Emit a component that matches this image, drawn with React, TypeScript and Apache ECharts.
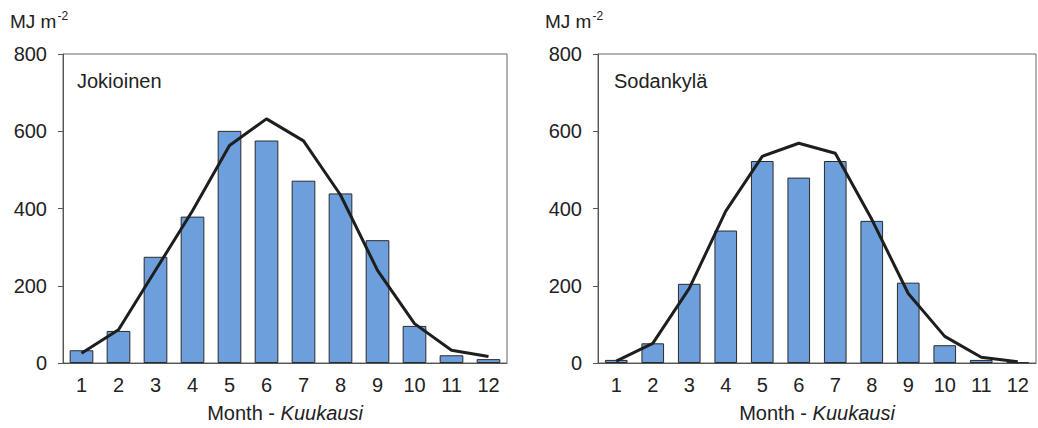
import React, { useEffect, useRef } from "react";
import * as echarts from "echarts";

const months = ["1", "2", "3", "4", "5", "6", "7", "8", "9", "10", "11", "12"];
const jokioinenBars = [33, 83, 275, 379, 601, 576, 472, 439, 318, 96, 20, 10];
const jokioinenLine = [25, 86, 240, 394, 563, 632, 575, 435, 240, 102, 33, 17];
const sodankylaBars = [8, 51, 205, 343, 523, 480, 523, 368, 208, 46, 8, 2];
const sodankylaLine = [5, 51, 193, 393, 535, 569, 543, 372, 180, 69, 15, 3];
const yTicks = [0, 200, 400, 600, 800];

const FONT = "Liberation Sans, Arial, sans-serif";

export default function App() {
  const ref = useRef<HTMLDivElement>(null);
  useEffect(() => {
    if (!ref.current) return;
    const chart = echarts.init(ref.current, null, { renderer: "svg" });
    const grids = [
      { left: 63, right: 531, top: 54, bottom: 56 },
      { left: 598, right: 2, top: 54, bottom: 59 },
    ];
    const xAxis = grids.map((_, i) => ({
      type: "category",
      gridIndex: i,
      data: months,
      axisLine: { lineStyle: { color: "#555", width: 1 } },
      axisTick: { show: false },
      axisLabel: { color: "#222", fontSize: 20, fontFamily: FONT, margin: 12 },
      name: "{n|Month - }{i|Kuukausi}",
      nameLocation: "middle",
      nameGap: 40,
      nameTextStyle: {
        rich: {
          n: { fontSize: 20, color: "#222", fontFamily: FONT },
          i: { fontSize: 20, color: "#222", fontFamily: FONT, fontStyle: "italic" },
        },
      },
    }));
    const yAxis = grids.map((_, i) => ({
      type: "value",
      gridIndex: i,
      min: 0,
      max: yTicks[yTicks.length - 1],
      interval: 200,
      axisLine: { show: true, lineStyle: { color: "#555", width: 1 } },
      axisTick: { show: true, length: 5, lineStyle: { color: "#555" } },
      splitLine: { show: false },
      axisLabel: { color: "#222", fontSize: 20, fontFamily: FONT, margin: 16 },
    }));
    const barStyle = { color: "#6d9fdc", borderColor: "#2a2a2a", borderWidth: 1 };
    const lineStyle = { color: "#1e1e1e", width: 3 };
    const titleText = (x: number, label: string, lx: number) => [
      {
        type: "text",
        left: x,
        top: 10,
        style: {
          text: "{a|MJ m}{s|-2}",
          rich: {
            a: { fontSize: 19, fill: "#222", fontFamily: FONT, verticalAlign: "bottom" },
            s: { fontSize: 12, fill: "#222", fontFamily: FONT, verticalAlign: "top", padding: [0, 0, 9, 1] },
          },
        },
      },
      {
        type: "text",
        left: lx,
        top: 71,
        style: { text: label, fontSize: 20, fill: "#222", fontFamily: FONT },
      },
    ];
    chart.setOption({
      animation: false,
      grid: grids.map((g) => ({ ...g, show: true, borderColor: "#666", borderWidth: 1, backgroundColor: "transparent" })),
      xAxis,
      yAxis,
      graphic: [...titleText(10, "Jokioinen", 77), ...titleText(545, "Sodankylä", 614)],
      series: [
        { type: "bar", xAxisIndex: 0, yAxisIndex: 0, data: jokioinenBars, barWidth: "64%", itemStyle: barStyle },
        { type: "line", xAxisIndex: 0, yAxisIndex: 0, data: jokioinenLine, showSymbol: false, symbol: "none", lineStyle },
        { type: "bar", xAxisIndex: 1, yAxisIndex: 1, data: sodankylaBars, barWidth: "62%", itemStyle: barStyle },
        { type: "line", xAxisIndex: 1, yAxisIndex: 1, data: sodankylaLine, showSymbol: false, symbol: "none", lineStyle },
      ],
    });
    return () => chart.dispose();
  }, []);
  return (
    <div
      ref={ref}
      style={{ position: "absolute", left: 0, top: 0, width: 1038, height: 428, background: "#fff" }}
    />
  );
}
